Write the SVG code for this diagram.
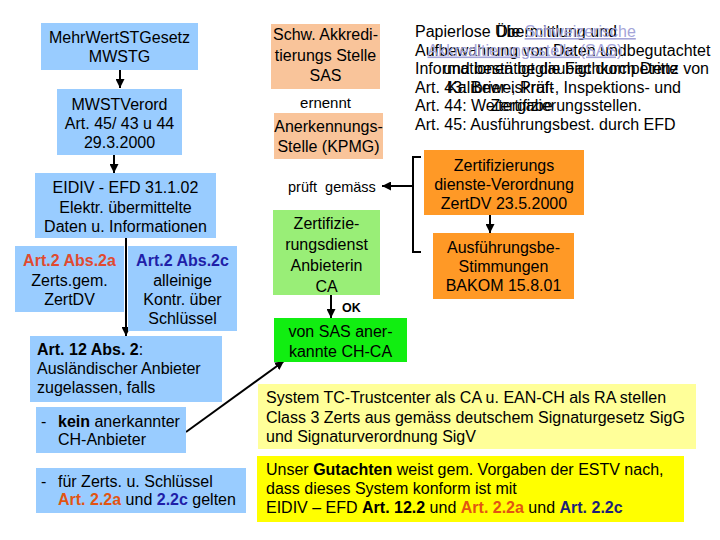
<svg xmlns="http://www.w3.org/2000/svg" width="720" height="540" viewBox="0 0 720 540">
<style>
text{font-family:"Liberation Sans",Arial,sans-serif;font-size:16px;fill:#000}
.c{text-anchor:middle}
.b{font-weight:bold}
.red{fill:#e04a30}
.blu{fill:#1f1fa8}
.red2{fill:#e25512}
.blu2{fill:#1e1e78}
.lnk{fill:#a4a4d8;text-decoration:underline}
.blue{fill:#99ccff}
.peach{fill:#f9c49a}
.lg{fill:#99ee77}
.bg{fill:#11ee11}
.or{fill:#ff9926}
.ly{fill:#ffff99}
.yl{fill:#ffff00}
.ln{stroke:#000;stroke-width:2;fill:none}
</style>
<defs>
<marker id="ah" viewBox="0 0 10 10" refX="10" refY="5" markerWidth="9" markerHeight="9" markerUnits="userSpaceOnUse" orient="auto">
<path d="M0,0 L10,5 L0,10 Z" fill="#000"/>
</marker>
</defs>
<rect width="720" height="540" fill="#fff"/>

<g id="connectors">
<line class="ln" x1="120" y1="70" x2="120" y2="88" marker-end="url(#ah)"/>
<line class="ln" x1="114" y1="155" x2="114" y2="173" marker-end="url(#ah)"/>
<line class="ln" x1="126" y1="238" x2="126" y2="336" marker-end="url(#ah)"/>
<line class="ln" x1="186" y1="432" x2="284" y2="361" marker-end="url(#ah)"/>
<path class="ln" d="M421,157 H413 V252 H421" stroke-width="1.5"/>
<line class="ln" x1="413" y1="186" x2="382" y2="186" marker-end="url(#ah)"/>
<line class="ln" x1="490" y1="215" x2="490" y2="233" marker-end="url(#ah)"/>
<line class="ln" x1="331" y1="295" x2="331" y2="318" marker-end="url(#ah)"/>
</g>

<g id="mwstg">
<rect class="blue" x="41" y="23" width="157" height="47"/>
<text class="c" x="119.5" y="43">MehrWertSTGesetz</text>
<text class="c" x="119.5" y="62">MWSTG</text>
</g>
<g id="mwstverord">
<rect class="blue" x="57" y="89" width="125" height="66"/>
<text class="c" x="119.5" y="110">MWSTVerord</text>
<text class="c" x="119.5" y="129">Art. 45/ 43 u 44</text>
<text class="c" x="119.5" y="148">29.3.2000</text>
</g>
<g id="eidiv">
<rect class="blue" x="35" y="173" width="181" height="65"/>
<text class="c" x="125.5" y="193">EIDIV - EFD 31.1.02</text>
<text class="c" x="125.5" y="213">Elektr. übermittelte</text>
<text class="c" x="125.5" y="232">Daten u. Informationen</text>
</g>
<g id="art2a">
<rect class="blue" x="15" y="246" width="109" height="66"/>
<text class="c b red" x="69.5" y="266">Art.2 Abs.2a</text>
<text class="c" x="69.5" y="286">Zerts.gem.</text>
<text class="c" x="69.5" y="305">ZertDV</text>
</g>
<g id="art2c">
<rect class="blue" x="128" y="246" width="109" height="85"/>
<text class="c b blu" x="182.5" y="266">Art.2 Abs.2c</text>
<text class="c" x="182.5" y="286">alleinige</text>
<text class="c" x="182.5" y="305">Kontr. über</text>
<text class="c" x="182.5" y="324">Schlüssel</text>
</g>
<g id="art12">
<rect class="blue" x="30" y="336" width="192" height="66"/>
<text x="37" y="355"><tspan class="b">Art. 12 Abs. 2</tspan>:</text>
<text x="37" y="374">Ausländischer Anbieter</text>
<text x="37" y="393">zugelassen, falls</text>
</g>
<g id="kein">
<rect class="blue" x="36" y="407" width="150" height="46"/>
<text x="41" y="427">-</text>
<text x="58" y="427"><tspan class="b">kein</tspan> anerkannter</text>
<text x="58" y="445">CH-Anbieter</text>
</g>
<g id="fuer">
<rect class="blue" x="36" y="468" width="210" height="45"/>
<text x="41" y="487">-</text>
<text x="58" y="487">für Zerts. u. Schlüssel</text>
<text x="58" y="505"><tspan class="b red2">Art. 2.2a</tspan> und <tspan class="b blu">2.2c</tspan> gelten</text>
</g>

<g id="sas">
<rect class="peach" x="271" y="24" width="109" height="65"/>
<text class="c" x="325.5" y="40">Schw. Akkredi-</text>
<text class="c" x="325.5" y="61">tierungs Stelle</text>
<text class="c" x="325.5" y="81">SAS</text>
</g>
<g id="ernennt">
<text class="c" x="325.5" y="108" style="font-size:15px">ernennt</text>
</g>
<g id="kpmg">
<rect class="peach" x="274" y="113" width="109" height="46"/>
<text class="c" x="328.5" y="132">Anerkennungs-</text>
<text class="c" x="328.5" y="152">Stelle (KPMG)</text>
</g>
<g id="prueft">
<text x="288" y="192" style="font-size:14.5px">prüft&#160; gemäss</text>
</g>
<g id="zda">
<rect class="lg" x="273" y="210" width="107" height="85"/>
<text class="c" x="326.5" y="229">Zertifizie-</text>
<text class="c" x="326.5" y="250">rungsdienst</text>
<text class="c" x="326.5" y="271">Anbieterin</text>
<text class="c" x="326.5" y="292">CA</text>
</g>
<g id="ok">
<text class="b" x="342" y="312" style="font-size:12.5px">OK</text>
</g>
<g id="chca">
<rect class="bg" x="274" y="318" width="133" height="44"/>
<text class="c" x="340.5" y="337">von SAS aner-</text>
<text class="c" x="340.5" y="357">kannte CH-CA</text>
</g>

<g id="zertdv">
<rect class="or" x="424" y="150" width="160" height="65"/>
<text class="c" x="504" y="171">Zertifizierungs</text>
<text class="c" x="504" y="190">dienste-Verordnung</text>
<text class="c" x="504" y="209">ZertDV 23.5.2000</text>
</g>
<g id="bakom">
<rect class="or" x="433" y="233" width="141" height="66"/>
<text class="c" x="503.5" y="253">Ausführungsbe-</text>
<text class="c" x="503.5" y="272">Stimmungen</text>
<text class="c" x="503.5" y="291">BAKOM 15.8.01</text>
</g>

<g id="textblock1">
<text x="415" y="37">Papierlose Übermittlung und</text>
<text x="415" y="55.5">Aufbewahrung von Daten und</text>
<text x="415" y="74">Informationen beglaubigt durch Dritte</text>
<text x="415" y="92.5">Art. 43: Beweiskraft</text>
<text x="415" y="111">Art. 44: Weitergabe</text>
<text x="415" y="130">Art. 45: Ausführungsbest. durch EFD</text>
</g>
<g id="textblock2">
<text class="c" x="566" y="37">Die <tspan class="lnk">Schweizerische</tspan></text>
<text class="c" x="569" y="55.5"><tspan class="lnk">Akkreditierungsstelle (SAS)</tspan> begutachtet</text>
<text class="c" x="576" y="74">und bestätigt die Fachkompetenz von</text>
<text class="c" x="564" y="92.5">Kalibrier-, Prüf-, Inspektions- und</text>
<text class="c" x="566" y="111">Zertifizierungsstellen.</text>
</g>

<g id="system">
<rect class="ly" x="258" y="384" width="438" height="65"/>
<text x="266" y="403">System TC-Trustcenter als CA u. EAN-CH als RA stellen</text>
<text x="266" y="423">Class 3 Zerts aus gemäss deutschem Signaturgesetz SigG</text>
<text x="266" y="442">und Signaturverordnung SigV</text>
</g>
<g id="gutachten">
<rect class="yl" x="257" y="456" width="427" height="66"/>
<text x="266" y="475">Unser <tspan class="b">Gutachten</tspan> weist gem. Vorgaben der ESTV nach,</text>
<text x="266" y="494">dass dieses System konform ist mit</text>
<text x="266" y="513">EIDIV – EFD <tspan class="b">Art. 12.2</tspan> und <tspan class="b red2">Art. 2.2a</tspan> und <tspan class="b blu2">Art. 2.2c</tspan></text>
</g>
</svg>
